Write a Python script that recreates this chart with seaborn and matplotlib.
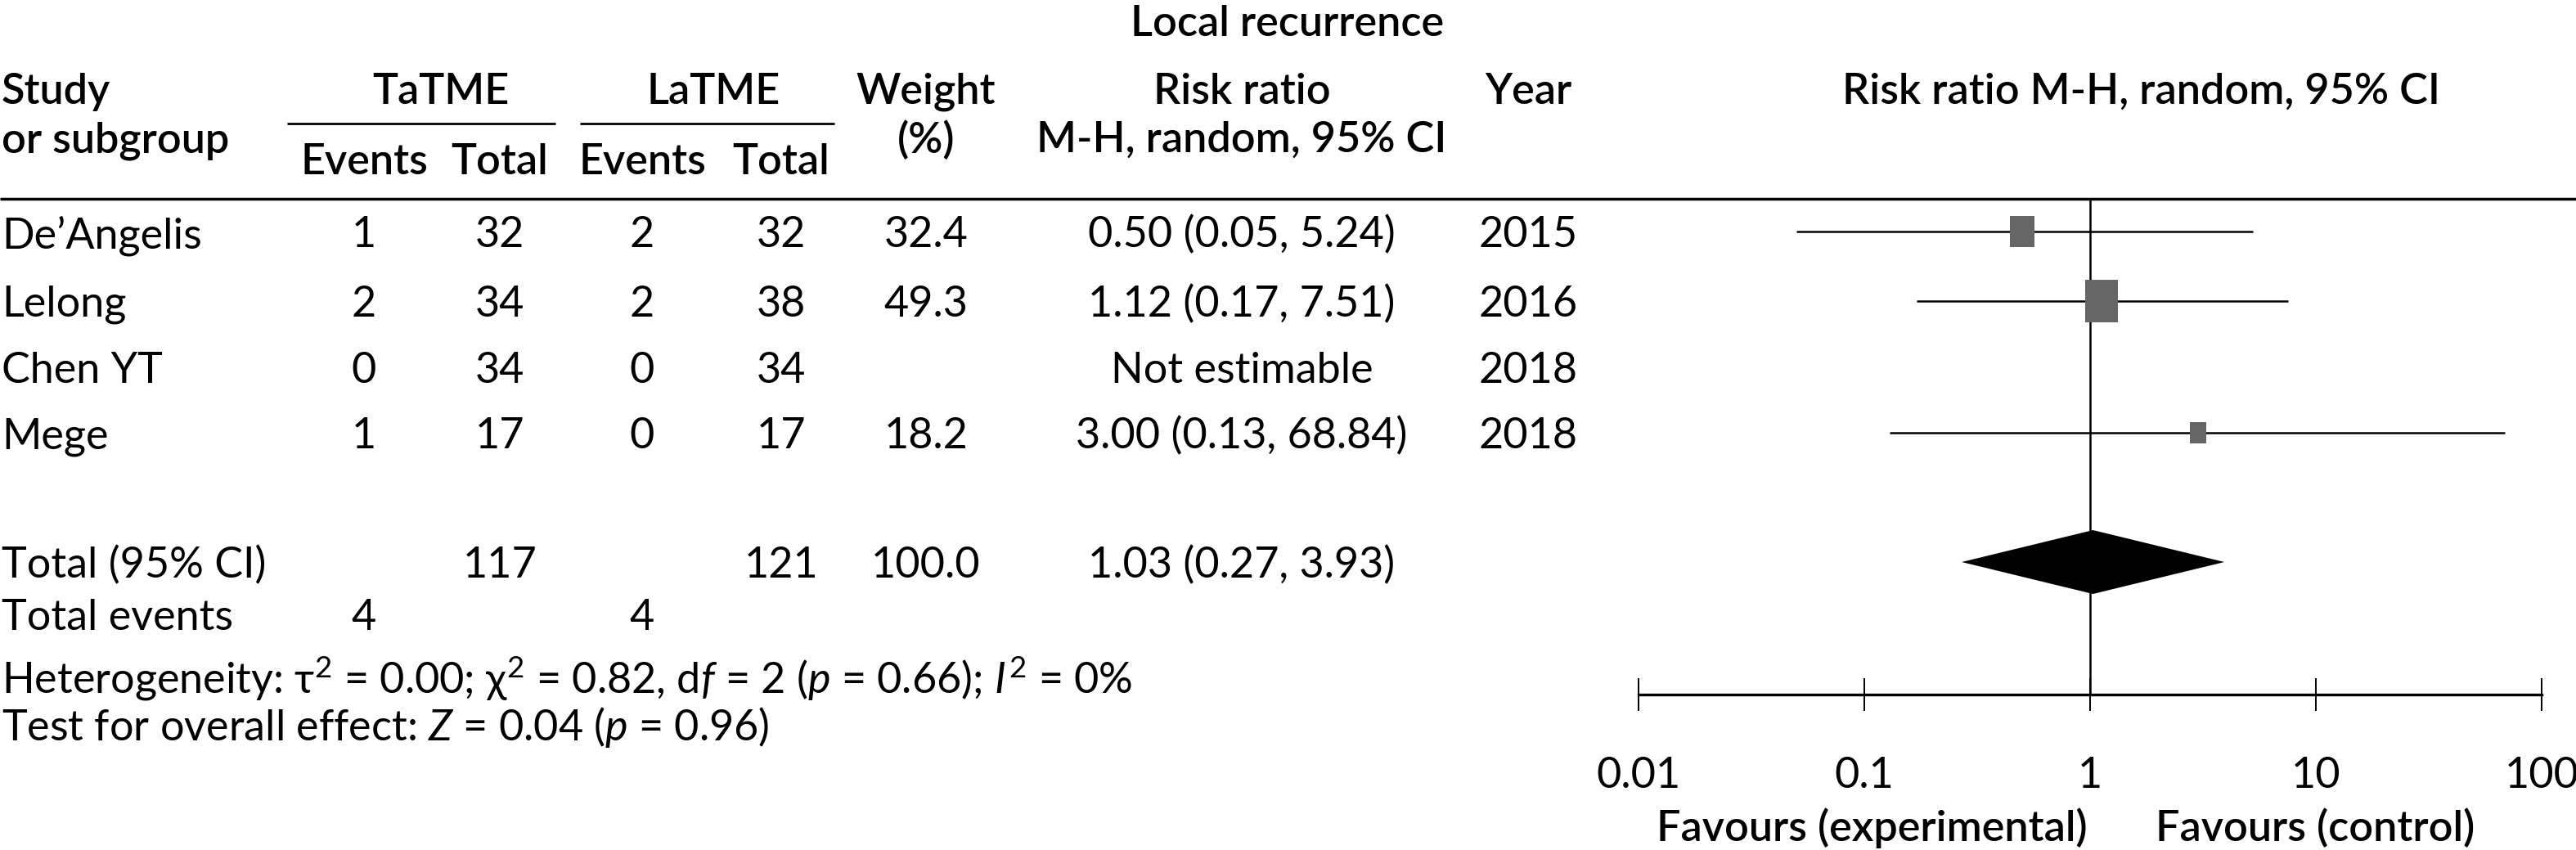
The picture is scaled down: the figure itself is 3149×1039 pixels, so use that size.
import matplotlib
matplotlib.use("Agg")
import matplotlib.pyplot as plt
from matplotlib.ticker import NullLocator
import numpy as np
import pandas as pd
import seaborn as sns

# values
studies = ["De\u2019Angelis", "Lelong", "Chen YT", "Mege"]
tatme_events = [1, 2, 0, 1]
tatme_total = [32, 34, 34, 17]
latme_events = [2, 2, 0, 0]
latme_total = [32, 38, 34, 17]
weight = [32.4, 49.3, np.nan, 18.2]
rr = [0.50, 1.12, np.nan, 3.00]
rr_low = [0.05, 0.17, np.nan, 0.13]
rr_high = [5.24, 7.51, np.nan, 68.84]
years = [2015, 2016, 2018, 2018]

total_n = [117, 121]
total_events = [4, 4]
total_weight = 100.0
pooled = [1.03, 0.27, 3.93]  # estimate, low, high

heterogeneity = "Heterogeneity: \u03c4$^2$ = 0.00; \u03c7$^2$ = 0.82, d$f$ = 2 ($p$ = 0.66); $I^2$ = 0%"
overall_effect = "Test for overall effect: $Z$ = 0.04 ($p$ = 0.96)"

axis_ticks = [0.01, 0.1, 1, 10, 100]
axis_tick_labels = ["0.01", "0.1", "1", "10", "100"]

# layout (pixels of the 3149 x 1039 canvas)
W, H = 3149, 1039
FS = 37.5
row_y = [283, 368, 449, 529]
total_y = 687
col_x = {"te": 445, "tt": 611, "le": 785, "lt": 955, "w": 1132, "rr": 1518, "yr": 1868}
forest_x0, forest_x1, forest_top, forest_axis = 2003, 3107, 243, 849

df = pd.DataFrame({
    "study": studies, "te": tatme_events, "tt": tatme_total,
    "le": latme_events, "lt": latme_total, "weight": weight,
    "rr": rr, "low": rr_low, "high": rr_high, "year": years,
})
df["y"] = row_y

sns.set_theme(style="white")
plt.rcParams["font.family"] = ["Lato", "DejaVu Sans"]
plt.rcParams["mathtext.fontset"] = "custom"
plt.rcParams["mathtext.rm"] = "Lato"
plt.rcParams["mathtext.it"] = "Lato:italic"
plt.rcParams["mathtext.bf"] = "Lato:bold"

fig = plt.figure(figsize=(W / 100, H / 100), dpi=100)
tab = fig.add_axes([0, 0, 1, 1])
tab.set_xlim(0, W)
tab.set_ylim(H, 0)
tab.axis("off")


def put(x, y, s, ha="center", weight="normal"):
    tab.text(x, y, s, ha=ha, va="center_baseline", fontsize=FS,
             fontweight=weight, color="black")


# header
put(1574, 25, "Local recurrence", weight="semibold")
put(2, 108, "Study", ha="left", weight="semibold")
put(2, 168, "or subgroup", ha="left", weight="semibold")
put(539, 108, "TaTME", weight="semibold")
put(872, 108, "LaTME", weight="semibold")
for key in ["te", "le"]:
    put(col_x[key], 194, "Events", weight="semibold")
for key in ["tt", "lt"]:
    put(col_x[key], 194, "Total", weight="semibold")
put(col_x["w"], 108, "Weight", weight="semibold")
put(col_x["w"], 167, "(%)", weight="semibold")
put(col_x["rr"], 108, "Risk ratio", weight="semibold")
put(col_x["rr"], 167, "M-H, random, 95% CI", weight="semibold")
put(col_x["yr"], 108, "Year", weight="semibold")
put(2618, 108, "Risk ratio M-H, random, 95% CI", weight="semibold")

tab.hlines(151, 351, 679, color="black", lw=2)
tab.hlines(151, 709, 1020, color="black", lw=2)
tab.hlines(forest_top, 0, W, color="black", lw=2.5)

# study rows
for _, r in df.iterrows():
    put(2, r["y"], r["study"], ha="left")
    for key in ["te", "tt", "le", "lt"]:
        put(col_x[key], r["y"], str(r[key]))
    if np.isnan(r["rr"]):
        put(col_x["rr"], r["y"], "Not estimable")
    else:
        put(col_x["w"], r["y"], f"{r['weight']:.1f}")
        put(col_x["rr"], r["y"], f"{r['rr']:.2f} ({r['low']:.2f}, {r['high']:.2f})")
    put(col_x["yr"], r["y"], str(r["year"]))

# totals
put(2, total_y, "Total (95% CI)", ha="left")
put(col_x["tt"], total_y, str(total_n[0]))
put(col_x["lt"], total_y, str(total_n[1]))
put(col_x["w"], total_y, f"{total_weight:.1f}")
put(col_x["rr"], total_y, f"{pooled[0]:.2f} ({pooled[1]:.2f}, {pooled[2]:.2f})")
put(2, 751, "Total events", ha="left")
put(col_x["te"], 751, str(total_events[0]))
put(col_x["le"], 751, str(total_events[1]))
put(2, 824, heterogeneity, ha="left")
put(2, 884, overall_effect, ha="left")

# forest panel
fa = fig.add_axes([forest_x0 / W, 1 - forest_axis / H,
                   (forest_x1 - forest_x0) / W, (forest_axis - forest_top) / H])
fa.patch.set_alpha(0)
fa.set_xscale("log")
fa.set_xlim(0.01, 100)
fa.set_ylim(forest_axis, forest_top)

fa.axvline(1, color="black", lw=1.8, zorder=1)

est = df.dropna(subset=["rr"])
fa.hlines(est["y"], est["low"], est["high"], color="black", lw=1.8, zorder=2)
box = [(-0.5, -0.65), (0.5, -0.65), (0.5, 0.65), (-0.5, 0.65)]
sns.scatterplot(x=est["rr"], y=est["y"], s=(2.45 * est["weight"] ** 0.7) ** 2,
                marker=box, color="#666666", edgecolor="none", linewidth=0,
                zorder=3, ax=fa, legend=False)

fa.fill([pooled[1], pooled[0], pooled[2], pooled[0]],
        [total_y, total_y - 39, total_y, total_y + 39], color="black", lw=0, zorder=3)

sns.despine(ax=fa, left=True, top=True, right=True)
fa.spines["bottom"].set_linewidth(2.4)
fa.spines["bottom"].set_color("black")
fa.set_yticks([])
fa.set_xticks(axis_ticks)
fa.set_xticklabels(axis_tick_labels)
fa.xaxis.set_minor_locator(NullLocator())
fa.tick_params(axis="x", bottom=True, direction="inout", length=29, width=1.4,
               pad=40, labelsize=FS, colors="black")
fa.set_xlabel("")
fa.set_ylabel("")

put(2288, 1008, "Favours (experimental)", weight="semibold")
put(2830, 1008, "Favours (control)", weight="semibold")

fig.savefig("out.png", dpi=100)
